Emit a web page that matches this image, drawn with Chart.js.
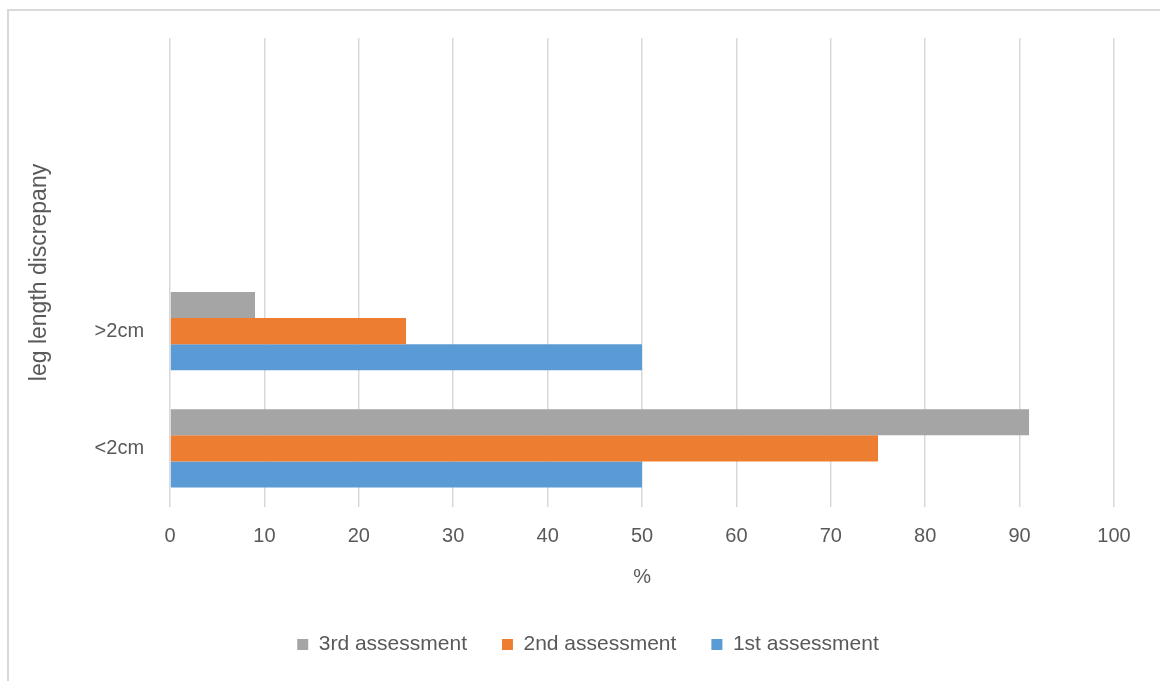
<!DOCTYPE html>
<html lang="en">
<head>
    <meta charset="UTF-8">
    <title>Leg length discrepancy by assessment</title>
    <script src="https://cdn.jsdelivr.net/npm/chart.js@4.4.0/dist/chart.umd.min.js"></script>
    <style>
        html, body { margin: 0; padding: 0; background: #fff; overflow: hidden; }
        .frame {
            position: absolute; left: 7px; top: 9px;
            width: 1300px; height: 800px;
            border: 2px solid #d9d9d9;
        }
        .wrap { position: absolute; left: 0; top: 0; width: 1160px; height: 681px; }
    </style>
</head>
<body>
    <div class="frame"></div>
    <div class="wrap"><canvas id="lld"></canvas></div>

    <script>
        // categories listed bottom-up, the two top rows are blank in the source sheet
        const categories = ['<2cm', '>2cm', '', ''];
        const third = [91, 9, null, null];
        const second = [75, 25, null, null];
        const first = [50, 50, null, null];
        const xTicks = [0, 10, 20, 30, 40, 50, 60, 70, 80, 90, 100];

        const font = "'Liberation Sans', sans-serif";
        const textColor = '#595959';

        // center the legend on the whole frame rather than the padded box
        const legendShift = {
            id: 'legendShift',
            afterLayout(chart) {
                chart.legend.left += 20;
                chart.legend.right += 20;
            }
        };

        const chart = new Chart(document.getElementById('lld'), {
            type: 'bar',
            data: {
                labels: categories,
                datasets: [
                    { label: '3rd assessment', data: third, backgroundColor: '#a5a5a5' },
                    { label: '2nd assessment', data: second, backgroundColor: '#ed7d31' },
                    { label: '1st assessment', data: first, backgroundColor: '#5b9bd5' }
                ]
            },
            plugins: [legendShift],
            options: {
                indexAxis: 'y',
                responsive: true,
                maintainAspectRatio: false,
                animation: false,
                datasets: { bar: { categoryPercentage: 0.667, barPercentage: 1 } },
                layout: { padding: { left: 22, right: 46, top: 38, bottom: 16 } },
                plugins: {
                    legend: {
                        position: 'bottom',
                        labels: {
                            color: textColor,
                            font: { family: font, size: 21 },
                            boxWidth: 11,
                            boxHeight: 11,
                            padding: 35
                        }
                    },
                    tooltip: { enabled: false }
                },
                scales: {
                    x: {
                        min: 0,
                        max: 100,
                        afterBuildTicks: axis => { axis.ticks = xTicks.map(v => ({ value: v })); },
                        grid: { color: '#d9d9d9', lineWidth: 1.5, drawTicks: false },
                        border: { display: false },
                        ticks: { color: textColor, font: { family: font, size: 20 }, padding: 17 },
                        title: {
                            display: true, text: '%', color: textColor,
                            font: { family: font, size: 20 }, padding: { top: 0, bottom: 10 }
                        }
                    },
                    y: {
                        reverse: true,
                        grid: { display: false },
                        border: { display: false },
                        ticks: { color: textColor, font: { family: font, size: 20 }, padding: 18 },
                        title: {
                            display: true, text: 'leg length discrepany', color: textColor,
                            font: { family: font, size: 23 }, padding: { bottom: 23 }
                        }
                    }
                }
            }
        });
    </script>
</body>
</html>
